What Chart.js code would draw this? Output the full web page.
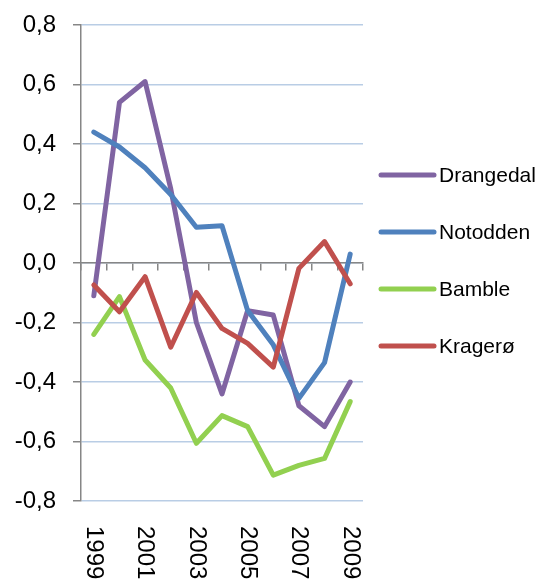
<!DOCTYPE html>
<html>
<head>
<meta charset="utf-8">
<script src="https://cdn.jsdelivr.net/npm/chart.js@4/dist/chart.umd.min.js"></script>
<style>
  html, body { margin: 0; padding: 0; background: #fff; }
  #wrap { width: 536px; height: 583px; }
</style>
</head>
<body>
<div id="wrap"><canvas id="graf" width="536" height="583"></canvas></div>
<script>
const years = ['1999', '2000', '2001', '2002', '2003', '2004', '2005', '2006', '2007', '2008', '2009'];
const shownYears = ['1999', '2001', '2003', '2005', '2007', '2009'];
const yTicks = [-0.8, -0.6, -0.4, -0.2, 0, 0.2, 0.4, 0.6, 0.8];

const drangedal = [-0.11, 0.54, 0.61, 0.25, -0.20, -0.44, -0.16, -0.175, -0.48, -0.55, -0.40];
const notodden  = [0.44, 0.39, 0.32, 0.23, 0.12, 0.125, -0.16, -0.275, -0.455, -0.335, 0.03];
const bamble    = [-0.24, -0.113, -0.326, -0.42, -0.606, -0.513, -0.55, -0.713, -0.68, -0.657, -0.466];
const kragero   = [-0.074, -0.164, -0.046, -0.283, -0.099, -0.22, -0.27, -0.35, -0.018, 0.072, -0.07];

const seriesNames = ['Drangedal', 'Notodden', 'Bamble', 'Kragerø'];
const seriesColors = ['#8064A2', '#4F81BD', '#92D050', '#C0504D'];
const seriesData = [drangedal, notodden, bamble, kragero];

const font = 'Liberation Sans, Arial, sans-serif';
const axisGray = '#868686';

function komma(v) {
  const r = Math.round(v * 10) / 10;
  return r.toFixed(1).replace('.', ',');
}

// legenden til høyre
const legendePlugin = {
  id: 'legende',
  afterDraw(chart) {
    const ctx = chart.ctx;
    ctx.save();
    seriesNames.forEach((navn, i) => {
      const y = 175 + i * 57;
      ctx.strokeStyle = seriesColors[i];
      ctx.lineWidth = 5;
      ctx.lineCap = 'round';
      ctx.beginPath();
      ctx.moveTo(381, y);
      ctx.lineTo(434, y);
      ctx.stroke();
      ctx.fillStyle = '#000';
      ctx.font = '21px ' + font;
      ctx.textAlign = 'left';
      ctx.textBaseline = 'middle';
      ctx.fillText(navn, 439, y + 1);
    });
    ctx.restore();
  }
};

// årstall nederst, rotert 90 grader med klokka
const aarPlugin = {
  id: 'aar',
  afterDraw(chart) {
    const ctx = chart.ctx;
    const xs = chart.scales.x;
    ctx.save();
    ctx.fillStyle = '#000';
    ctx.font = '24px ' + font;
    ctx.textAlign = 'left';
    ctx.textBaseline = 'middle';
    shownYears.forEach(aar => {
      const x = xs.getPixelForValue(years.indexOf(aar));
      ctx.save();
      ctx.translate(x, 526);
      ctx.rotate(Math.PI / 2);
      ctx.fillText(aar, 0, 0);
      ctx.restore();
    });
    ctx.restore();
  }
};

new Chart(document.getElementById('graf'), {
  type: 'line',
  data: {
    labels: years,
    datasets: seriesData.map((d, i) => ({
      label: seriesNames[i],
      data: d,
      borderColor: seriesColors[i],
      backgroundColor: seriesColors[i],
      borderWidth: 5,
      borderJoinStyle: 'round',
      borderCapStyle: 'round',
      pointRadius: 0,
      tension: 0,
      order: 4 - i
    }))
  },
  options: {
    responsive: false,
    animation: false,
    layout: { padding: { left: 0, right: 173, top: 25, bottom: 82 } },
    plugins: {
      legend: { display: false },
      tooltip: { enabled: false }
    },
    scales: {
      x: {
        type: 'category',
        position: { y: 0 },
        offset: true,
        grid: {
          offset: true,
          drawOnChartArea: false,
          drawTicks: true,
          tickLength: 7,
          tickColor: axisGray,
          lineWidth: 1.5
        },
        border: { color: axisGray, width: 1.5 },
        ticks: { display: false }
      },
      y: {
        min: -0.8,
        max: 0.8,
        afterFit(s) {
          s.width = 81;
          s.paddingTop = 0;
          s.paddingBottom = 0;
        },
        afterBuildTicks(s) { s.ticks = yTicks.map(v => ({ value: v })); },
        grid: {
          color: '#B9CDE5',
          lineWidth: 1.5,
          tickColor: axisGray,
          tickLength: 8
        },
        border: { color: axisGray, width: 1.5 },
        ticks: {
          padding: 17,
          color: '#000',
          font: { family: font, size: 24 },
          callback: v => komma(v)
        }
      }
    }
  },
  plugins: [legendePlugin, aarPlugin]
});
</script>
</body>
</html>
